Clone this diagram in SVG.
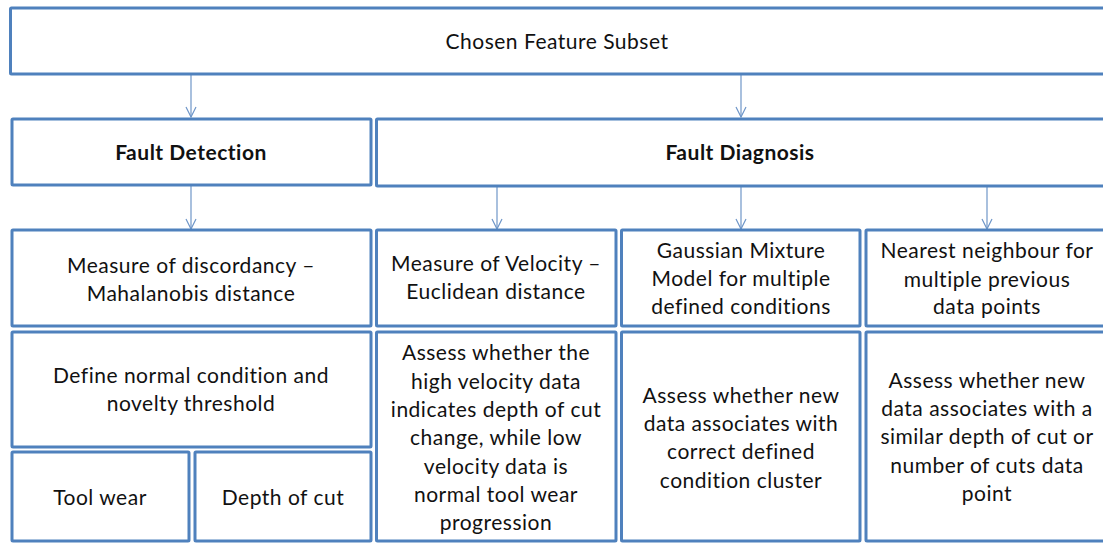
<svg xmlns="http://www.w3.org/2000/svg" width="1103" height="543" viewBox="0 0 1103 543">
  <style>
    .box { fill: #ffffff; stroke: #4F81BD; stroke-width: 3; }
    .lbl { font-family: Lato, "Open Sans", "Liberation Sans", sans-serif; font-size: 21px; letter-spacing: 0.5px; fill: #111111; text-anchor: middle; dominant-baseline: central; transform: translateY(-1.5px); }
    .bold { font-weight: bold; }
    .link { stroke: #6F96C8; stroke-width: 1.2; fill: none; marker-end: url(#vee); }
  </style>
  <defs>
    <marker id="vee" viewBox="0 0 12 12" refX="11" refY="6" markerWidth="12" markerHeight="12" markerUnits="userSpaceOnUse" orient="auto">
      <path d="M1,1 L11,6 L1,11" fill="none" stroke="#6F96C8" stroke-width="1.2"/>
    </marker>
  </defs>
  <rect width="1103" height="543" fill="#ffffff"/>

  <g id="connectors">
    <line class="link" x1="191" y1="75" x2="191" y2="117"/>
    <line class="link" x1="741" y1="75" x2="741" y2="117"/>
    <line class="link" x1="191" y1="186" x2="191" y2="229"/>
    <line class="link" x1="497" y1="187" x2="497" y2="229"/>
    <line class="link" x1="741" y1="187" x2="741" y2="229"/>
    <line class="link" x1="987" y1="187" x2="987" y2="229"/>
  </g>

  <g id="chosen-feature-subset">
    <rect class="box" x="10.5" y="8" width="1100" height="66" rx="1"/>
    <text class="lbl" x="557" y="42">Chosen Feature Subset</text>
  </g>

  <g id="fault-detection">
    <rect class="box" x="12" y="119" width="359" height="66" rx="1"/>
    <text class="lbl bold" x="191" y="153">Fault Detection</text>
  </g>

  <g id="fault-diagnosis">
    <rect class="box" x="376.5" y="119" width="740" height="67" rx="1"/>
    <text class="lbl bold" x="740" y="153">Fault Diagnosis</text>
  </g>

  <g id="mahalanobis">
    <rect class="box" x="12" y="230" width="359" height="96" rx="1"/>
    <text class="lbl" x="191" y="266">Measure of discordancy –</text>
    <text class="lbl" x="191" y="294">Mahalanobis distance</text>
  </g>

  <g id="euclidean">
    <rect class="box" x="376.5" y="230" width="239.5" height="96" rx="1"/>
    <text class="lbl" x="496" y="264">Measure of Velocity –</text>
    <text class="lbl" x="496" y="292">Euclidean distance</text>
  </g>

  <g id="gaussian-mixture">
    <rect class="box" x="621.5" y="230" width="238.5" height="96" rx="1"/>
    <text class="lbl" x="741" y="251">Gaussian Mixture</text>
    <text class="lbl" x="741" y="279">Model for multiple</text>
    <text class="lbl" x="741" y="307">defined conditions</text>
  </g>

  <g id="nearest-neighbour">
    <rect class="box" x="866" y="230" width="244" height="96" rx="1"/>
    <text class="lbl" x="987" y="251">Nearest neighbour for</text>
    <text class="lbl" x="987" y="280">multiple previous</text>
    <text class="lbl" x="987" y="307">data points</text>
  </g>

  <g id="normal-threshold">
    <rect class="box" x="12" y="332" width="359" height="115" rx="1"/>
    <text class="lbl" x="191" y="376">Define normal condition and</text>
    <text class="lbl" x="191" y="404">novelty threshold</text>
  </g>

  <g id="velocity-assess">
    <rect class="box" x="376.5" y="332" width="239.5" height="209" rx="1"/>
    <text class="lbl" x="496" y="353">Assess whether the</text>
    <text class="lbl" x="496" y="382">high velocity data</text>
    <text class="lbl" x="496" y="410">indicates depth of cut</text>
    <text class="lbl" x="496" y="438">change, while low</text>
    <text class="lbl" x="496" y="467">velocity data is</text>
    <text class="lbl" x="496" y="495">normal tool wear</text>
    <text class="lbl" x="496" y="523">progression</text>
  </g>

  <g id="cluster-assess">
    <rect class="box" x="621.5" y="332" width="238.5" height="209" rx="1"/>
    <text class="lbl" x="741" y="396">Assess whether new</text>
    <text class="lbl" x="741" y="424">data associates with</text>
    <text class="lbl" x="741" y="452">correct defined</text>
    <text class="lbl" x="741" y="481">condition cluster</text>
  </g>

  <g id="neighbour-assess">
    <rect class="box" x="866" y="332" width="244" height="209" rx="1"/>
    <text class="lbl" x="987" y="381">Assess whether new</text>
    <text class="lbl" x="987" y="409">data associates with a</text>
    <text class="lbl" x="987" y="437">similar depth of cut or</text>
    <text class="lbl" x="987" y="466">number of cuts data</text>
    <text class="lbl" x="987" y="494">point</text>
  </g>

  <g id="tool-wear">
    <rect class="box" x="12" y="452" width="177" height="89" rx="1"/>
    <text class="lbl" x="100" y="498">Tool wear</text>
  </g>

  <g id="depth-of-cut">
    <rect class="box" x="195" y="452" width="176" height="89" rx="1"/>
    <text class="lbl" x="283" y="498">Depth of cut</text>
  </g>
</svg>
